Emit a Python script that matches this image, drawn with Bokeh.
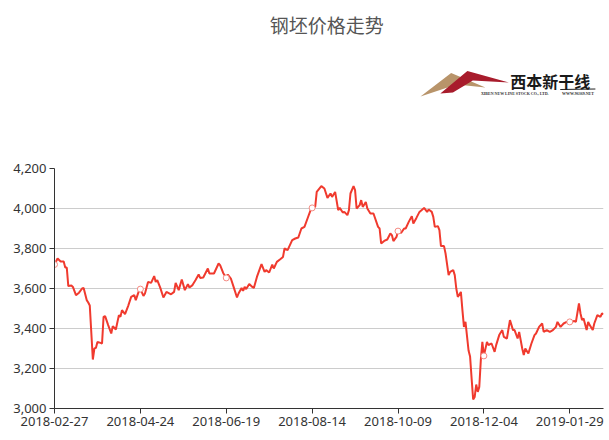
import pandas as pd
from bokeh.plotting import figure
from bokeh.layouts import column
from bokeh.models import (FixedTicker, DatetimeTickFormatter, NumeralTickFormatter,
                          Range1d, ColumnDataSource)
from bokeh.core.properties import value
from bokeh.embed import file_html
from bokeh.resources import INLINE

# ---------------- data ----------------
start_date = "2018-02-27"
end_date = "2019-02-20"

# day offset from start_date of each read point
day_offsets = [
    0, 2, 4, 6, 7, 8, 9, 11, 12, 14, 16, 18, 19, 21, 22, 23, 25, 26, 27, 28,
    30, 31, 32, 33, 35, 37, 38, 40, 42, 43, 44, 46, 48, 50, 52, 53, 55, 56, 58, 59,
    61, 63, 65, 66, 67, 69, 71, 73, 76, 78, 79, 81, 83, 85, 87, 88, 90, 92, 94, 95,
    97, 100, 101, 104, 107, 108, 110, 112, 113, 115, 117, 119, 120, 122, 123, 124, 125, 127, 129, 130,
    132, 135, 137, 138, 140, 142, 143, 145, 147, 149, 150, 152, 155, 157, 159, 161, 163, 165, 167, 168,
    170, 171, 174, 176, 178, 180, 181, 183, 185, 186, 188, 189, 191, 192, 193, 195, 196, 197, 199, 200,
    201, 203, 204, 206, 208, 211, 212, 213, 215, 217, 219, 220, 221, 223, 224, 226, 228, 229, 231, 233,
    234, 236, 238, 241, 243, 244, 246, 247, 248, 250, 251, 252, 254, 255, 257, 258, 260, 261, 262, 263,
    265, 266, 267, 268, 270, 271, 272, 273, 274, 275, 276, 277, 278, 279, 280, 282, 283, 284, 285, 287,
    288, 290, 292, 293, 295, 297, 299, 300, 302, 303, 305, 306, 307, 309, 311, 313, 314, 316, 318, 319,
    321, 323, 325, 327, 328, 330, 332, 334, 336, 339, 340, 342, 343, 344, 345, 347, 348, 349, 351, 352,
    354, 356, 357, 358,
]

price = [
    3720, 3750, 3735, 3735, 3705, 3705, 3612, 3615, 3608, 3567, 3579, 3600, 3603, 3542, 3530, 3515, 3245, 3300, 3303, 3333,
    3328, 3325, 3458, 3462, 3417, 3375, 3412, 3395, 3467, 3458, 3492, 3472, 3512, 3558, 3567, 3542, 3587, 3597, 3563, 3575,
    3633, 3628, 3662, 3633, 3642, 3603, 3555, 3583, 3571, 3583, 3628, 3592, 3645, 3592, 3622, 3605, 3617, 3642, 3670, 3653,
    3655, 3700, 3675, 3675, 3725, 3717, 3678, 3653, 3670, 3650, 3603, 3555, 3575, 3603, 3588, 3608, 3597, 3622, 3608, 3603,
    3658, 3722, 3683, 3692, 3680, 3720, 3700, 3733, 3745, 3758, 3800, 3792, 3842, 3850, 3855, 3900, 3908, 3950, 3992, 4003,
    4008, 4083, 4112, 4100, 4053, 4075, 4058, 4083, 3992, 4003, 3980, 3983, 3967, 3992, 4075, 4112, 4092, 4000, 4017, 4042,
    4008, 4033, 4000, 3975, 3975, 3908, 3900, 3825, 3838, 3845, 3875, 3867, 3837, 3858, 3887, 3878, 3900, 3900, 3933, 3962,
    3925, 3953, 3983, 4003, 3983, 3995, 3983, 3958, 3908, 3912, 3892, 3812, 3812, 3775, 3667, 3683, 3692, 3667, 3600, 3558,
    3583, 3492, 3408, 3433, 3290, 3260, 3150, 3045, 3058, 3120, 3083, 3108, 3242, 3333, 3263, 3333, 3317, 3322, 3325, 3283,
    3317, 3367, 3392, 3358, 3350, 3442, 3392, 3392, 3350, 3383, 3300, 3267, 3300, 3275, 3325, 3367, 3375, 3408, 3425, 3383,
    3392, 3383, 3392, 3408, 3433, 3408, 3425, 3433, 3433, 3437, 3433, 3525, 3475, 3442, 3450, 3392, 3433, 3417, 3392, 3425,
    3467, 3458, 3475, 3472,
]

tick_dates = ["2018-02-27", "2018-04-24", "2018-06-19", "2018-08-14",
              "2018-10-09", "2018-12-04", "2019-01-29"]
y_ticks = [3000, 3200, 3400, 3600, 3800, 4000, 4200]

title_text = "钢坯价格走势"
logo_name = "西本新干线"
logo_en = "XIBEN NEW LINE STOCK CO., LTD."
logo_web = "WWW.96369.NET"

assert len(day_offsets) == len(price)

FONT = "Noto Sans"
CJK = "Noto Sans CJK SC"
LINE = "#f03a2e"
W = 609
HEAD_H = 150
GAP_TOP = 18   # space above the plot frame inside the chart figure

# ---------------- header panel: title + logo (pixel space, y downwards) ----------------
head = figure(width=W, height=HEAD_H, output_backend="svg", toolbar_location=None,
              x_range=Range1d(0, W), y_range=Range1d(HEAD_H, 0),
              x_axis_location=None, y_axis_location=None,
              min_border=0, outline_line_color=None)
head.grid.visible = False
head.text(x=[302], y=[24], text=[title_text], text_align="center", text_baseline="middle",
          text_font=value(CJK), text_font_size="19px", text_color="#555555")
# logo mountains
head.patch(x=[406, 440, 478, 446], y=[96, 72.5, 87, 84], fill_color="#b8946a", line_color=None)
head.patch(x=[428, 458, 504, 464, 442], y=[93, 70.5, 82, 80, 92], fill_color="#a81c2c", line_color=None)
head.patch(x=[561, 600, 600, 561], y=[88.5, 88, 89, 89.5], fill_color="#222222", line_color=None)
head.text(x=[550], y=[80], text=[logo_name], text_align="center", text_baseline="middle",
          text_font=value(CJK), text_font_size="16px", text_font_style="bold", text_color="#1a1a1a")
head.text(x=[473, 563], y=[93, 93], text=[logo_en, logo_web], text_align="left", text_baseline="middle",
          text_font=value("Liberation Sans Narrow"), text_font_size="4px", text_font_style="bold",
          text_color="#333333")

# ---------------- main chart ----------------
dates = pd.Timestamp(start_date) + pd.to_timedelta(day_offsets, unit="D")
src = ColumnDataSource(dict(date=dates, price=price))
tick_ts = pd.to_datetime(tick_dates)
mask = dates.isin(tick_ts)
mk = ColumnDataSource(dict(date=dates[mask], price=[v for v, m in zip(price, mask) if m]))

p = figure(width=W, height=440 - HEAD_H, x_axis_type="datetime",
           output_backend="svg", toolbar_location=None,
           x_range=Range1d(pd.Timestamp(start_date), pd.Timestamp(end_date)),
           y_range=Range1d(3000, 4200),
           min_border_left=54, min_border_right=6,
           min_border_top=GAP_TOP, min_border_bottom=32)
p.outline_line_color = None

p.line("date", "price", source=src, line_color=LINE, line_width=2)
p.scatter("date", "price", source=mk, size=6, marker="circle",
          fill_color="white", line_color="#f58a82", line_width=1)

p.xaxis.ticker = FixedTicker(ticks=[t.value / 1e6 for t in tick_ts])
fmt = "%Y-%m-%d"
p.xaxis.formatter = DatetimeTickFormatter(
    milliseconds=fmt, seconds=fmt, minsec=fmt, minutes=fmt, hourmin=fmt,
    hours=fmt, days=fmt, months=fmt, years=fmt, strip_leading_zeros=False)
p.yaxis.ticker = FixedTicker(ticks=y_ticks)
p.yaxis.formatter = NumeralTickFormatter(format="0,0")

for ax in (p.xaxis, p.yaxis):
    ax.axis_line_color = "#333333"
    ax.major_tick_line_color = "#333333"
    ax.minor_tick_line_color = None
    ax.major_tick_out = 5
    ax.major_tick_in = 0
    ax.major_label_text_font = FONT
    ax.major_label_text_font_size = "13px"
    ax.major_label_text_color = "#333333"
    ax.major_label_standoff = 3

p.xgrid.visible = False
p.ygrid.grid_line_color = "#cccccc"
p.ygrid.grid_line_width = 1

layout = column(head, p, spacing=0)
open("out.html", "w").write(file_html(layout, INLINE))
